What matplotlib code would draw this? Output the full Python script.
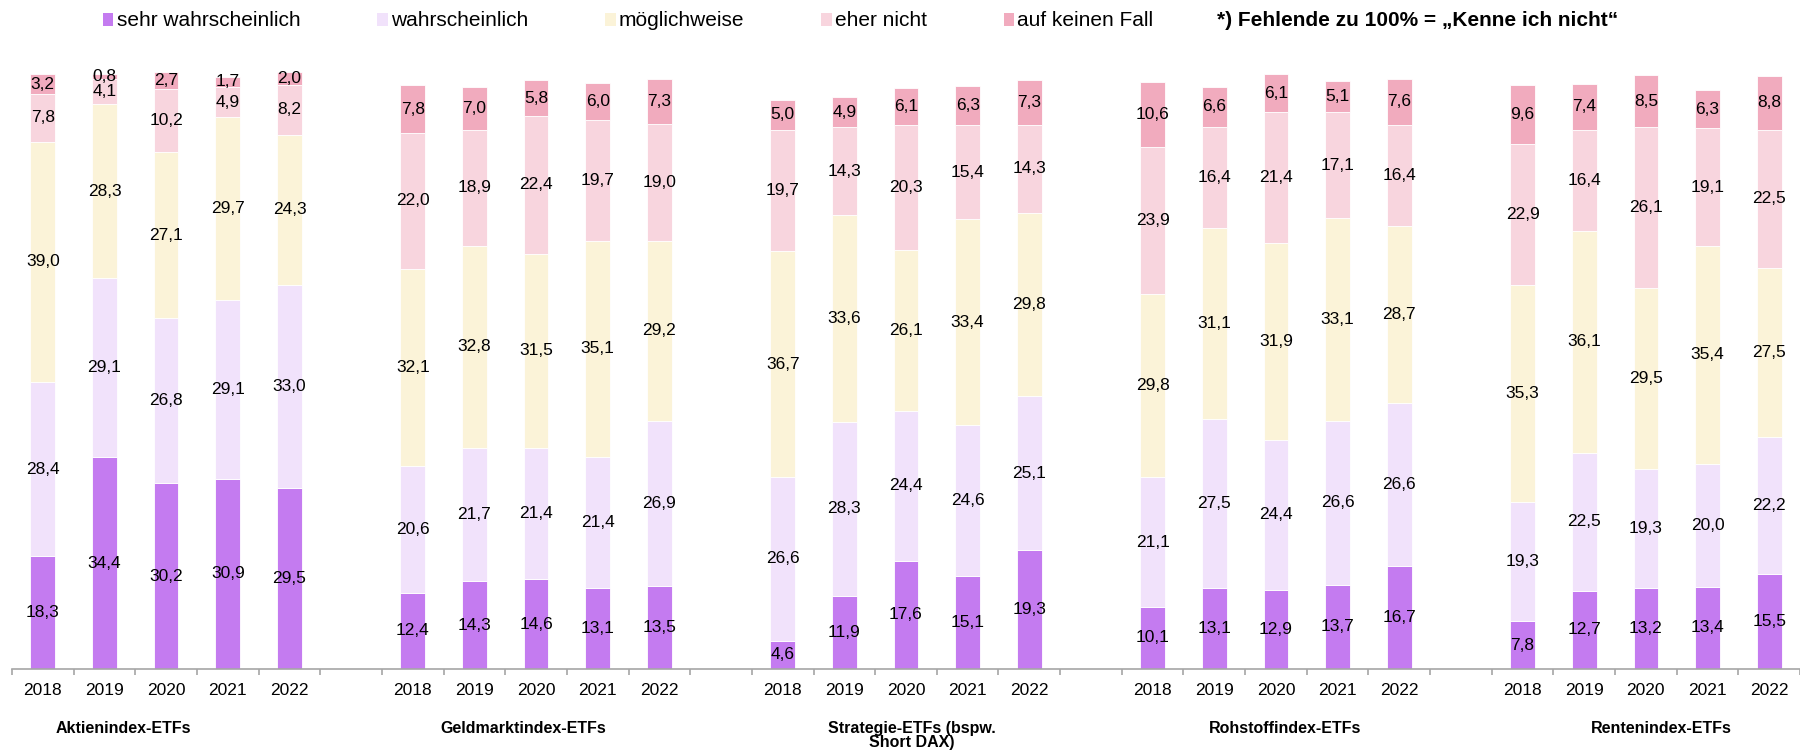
#!/usr/bin/env python3

# Stacked bars: likelihood of buying ETF types, 2018-2022
import numpy as np
import matplotlib
matplotlib.use("Agg")
import matplotlib.pyplot as plt
from matplotlib.patches import Patch

plt.rcParams['font.family'] = ['Liberation Sans', 'DejaVu Sans']

years = ["2018", "2019", "2020", "2021", "2022"]
groups = ["Aktienindex-ETFs", "Geldmarktindex-ETFs", "Strategie-ETFs (bspw.\nShort DAX)",
          "Rohstoffindex-ETFs", "Rentenindex-ETFs"]
series_names = ["sehr wahrscheinlich", "wahrscheinlich", "möglichweise", "eher nicht", "auf keinen Fall"]

# values per group, 2018..2022
sehr_wahrscheinlich = [18.3, 34.4, 30.2, 30.9, 29.5,
                       12.4, 14.3, 14.6, 13.1, 13.5,
                       4.6, 11.9, 17.6, 15.1, 19.3,
                       10.1, 13.1, 12.9, 13.7, 16.7,
                       7.8, 12.7, 13.2, 13.4, 15.5]
wahrscheinlich = [28.4, 29.1, 26.8, 29.1, 33.0,
                  20.6, 21.7, 21.4, 21.4, 26.9,
                  26.6, 28.3, 24.4, 24.6, 25.1,
                  21.1, 27.5, 24.4, 26.6, 26.6,
                  19.3, 22.5, 19.3, 20.0, 22.2]
moeglichweise = [39.0, 28.3, 27.1, 29.7, 24.3,
                 32.1, 32.8, 31.5, 35.1, 29.2,
                 36.7, 33.6, 26.1, 33.4, 29.8,
                 29.8, 31.1, 31.9, 33.1, 28.7,
                 35.3, 36.1, 29.5, 35.4, 27.5]
eher_nicht = [7.8, 4.1, 10.2, 4.9, 8.2,
              22.0, 18.9, 22.4, 19.7, 19.0,
              19.7, 14.3, 20.3, 15.4, 14.3,
              23.9, 16.4, 21.4, 17.1, 16.4,
              22.9, 16.4, 26.1, 19.1, 22.5]
auf_keinen_fall = [3.2, 0.8, 2.7, 1.7, 2.0,
                   7.8, 7.0, 5.8, 6.0, 7.3,
                   5.0, 4.9, 6.1, 6.3, 7.3,
                   10.6, 6.6, 6.1, 5.1, 7.6,
                   9.6, 7.4, 8.5, 6.3, 8.8]

colors = ["#C47BF0", "#F1E2FB", "#FBF3D8", "#F8D5DE", "#F1ABBE"]

# category positions: 5 bars per group, one empty slot between groups
x = np.array([g * 6 + i for g in range(5) for i in range(5)])
n_slots = 29
slot_px = 62.07
group_label_x = [1.3, 7.8, 14.1, 20.15, 26.25]

fig = plt.figure(figsize=(18, 7.56), dpi=100)
left = 12 / 1800
ax = fig.add_axes([left, 1 - 669 / 756, 1 - left, 615 / 756])

bottom = np.zeros(len(x))
for name, vals, c in zip(series_names,
                         [sehr_wahrscheinlich, wahrscheinlich, moeglichweise, eher_nicht, auf_keinen_fall],
                         colors):
    vals = np.array(vals)
    ax.bar(x, vals, 0.4, bottom=bottom, color=c, edgecolor="white", linewidth=0.6, label=name)
    for xi, b, v in zip(x, bottom, vals):
        ax.text(xi, b + v / 2, f"{v:.1f}".replace(".", ","), ha="center", va="center",
                fontsize=12.5, color="black")
    bottom += vals

ax.set_ylim(0, 100)
ax.set_xlim(-0.5, -0.5 + (1800 - 12) / slot_px)

for s in ["left", "right", "top"]:
    ax.spines[s].set_visible(False)
ax.spines["bottom"].set_color("#A6A6A6")
ax.spines["bottom"].set_linewidth(1.2)
ax.set_yticks([])

ax.set_xticks(x)
ax.set_xticklabels(years * 5, fontsize=12.5)
ax.tick_params(axis="x", which="major", length=0, pad=10)
ax.set_xticks(np.arange(n_slots + 1) - 0.5, minor=True)
ax.tick_params(axis="x", which="minor", length=4, width=1.2, color="#A6A6A6")

for gx, name in zip(group_label_x, groups):
    ax.text(gx, -8.4, name, ha="center", va="top", fontsize=11.5, fontweight="bold",
            linespacing=0.95, transform=ax.transData, clip_on=False)

handles = [Patch(facecolor=c, edgecolor="none") for c in colors]
fig.legend(handles, series_names, loc="center left", bbox_to_anchor=(103 / 1800, 1 - 21 / 756),
           ncol=5, frameon=False, fontsize=15, handlelength=0.5, handleheight=0.6,
           handletextpad=0.15, columnspacing=3.7, borderaxespad=0, borderpad=0)
fig.text(1217 / 1800, 1 - 21 / 756, "*) Fehlende zu 100% = \u201eKenne ich nicht\u201c",
         fontsize=15, fontweight="bold", va="center", ha="left")

fig.savefig("out.png", dpi=100)
